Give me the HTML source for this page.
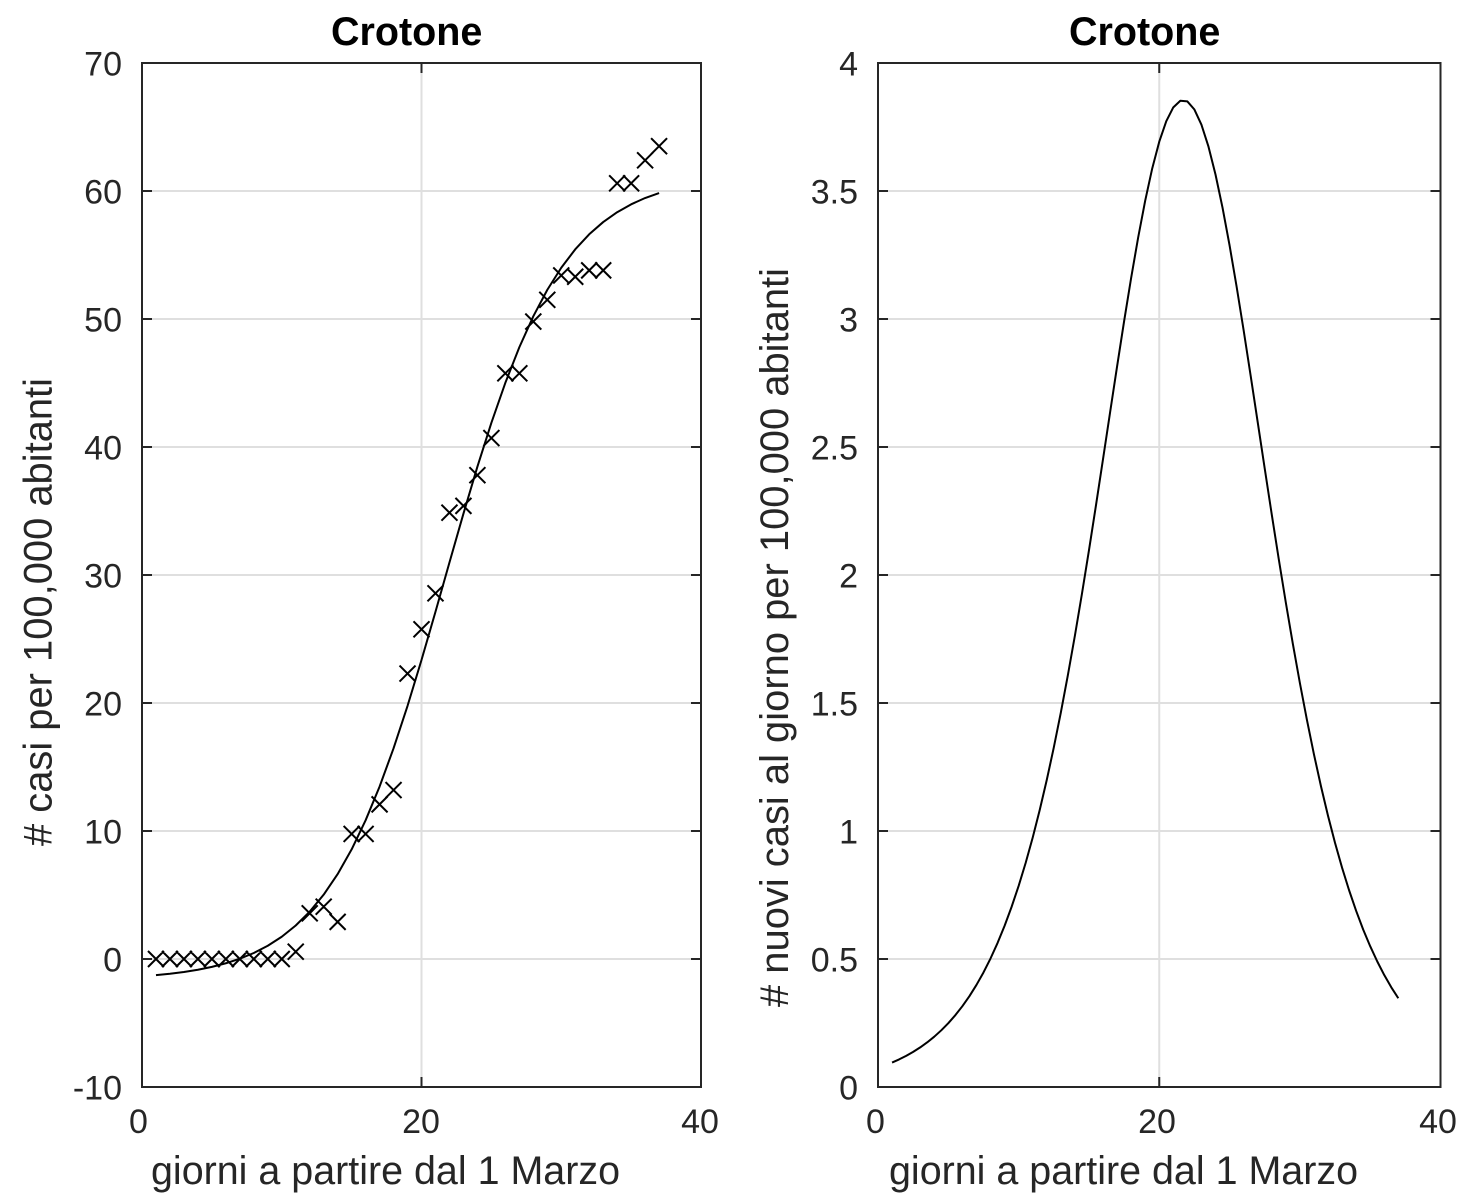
<!DOCTYPE html>
<html>
<head>
<meta charset="utf-8">
<style>
  html, body { margin: 0; padding: 0; background: #ffffff; }
  svg { display: block; }
  text { font-family: "Liberation Sans", Arial, Helvetica, sans-serif; }
</style>
</head>
<body>
<svg xmlns="http://www.w3.org/2000/svg" width="1476" height="1202" viewBox="0 0 1476 1202">
  <rect x="0" y="0" width="1476" height="1202" fill="#ffffff"/>

  <!-- ================= LEFT PLOT ================= -->
  <g stroke="#dfdfdf" stroke-width="2" fill="none">
    <line x1="142" y1="959" x2="701" y2="959"/>
    <line x1="142" y1="831" x2="701" y2="831"/>
    <line x1="142" y1="703" x2="701" y2="703"/>
    <line x1="142" y1="575" x2="701" y2="575"/>
    <line x1="142" y1="447" x2="701" y2="447"/>
    <line x1="142" y1="319" x2="701" y2="319"/>
    <line x1="142" y1="191" x2="701" y2="191"/>
    <line x1="421.5" y1="63" x2="421.5" y2="1087"/>
  </g>

  <polyline fill="none" stroke="#000" stroke-width="2" stroke-linejoin="round" points="
155.98,975.10 169.95,973.72 183.93,971.95 197.90,969.72 211.88,966.88 225.85,963.28 239.83,958.72 253.80,952.99 267.78,945.76 281.75,936.75 295.73,925.52 309.70,911.65 323.68,894.67 337.65,874.07 351.63,849.40 365.60,820.31 379.58,786.59 393.55,748.32 407.53,705.88 421.50,660.00 435.48,611.76 449.45,562.51 463.43,513.71 477.40,466.71 491.38,422.80 505.35,382.80 519.33,347.23 533.30,316.30 547.28,289.90 561.25,267.73 575.23,249.36 589.20,234.29 603.18,222.06 617.15,212.21 631.13,204.32 645.10,198.02 659.08,193.03"/>

  <path fill="none" stroke="#000" stroke-width="2" d="
M147.98,951l16,16m-16,0l16,-16
M161.95,951l16,16m-16,0l16,-16
M175.93,951l16,16m-16,0l16,-16
M189.9,951l16,16m-16,0l16,-16
M203.88,951l16,16m-16,0l16,-16
M217.85,951l16,16m-16,0l16,-16
M231.83,951l16,16m-16,0l16,-16
M245.8,951l16,16m-16,0l16,-16
M259.78,951l16,16m-16,0l16,-16
M273.75,951l16,16m-16,0l16,-16
M287.73,943.7l16,16m-16,0l16,-16
M301.7,905.3l16,16m-16,0l16,-16
M315.68,898.65l16,16m-16,0l16,-16
M329.65,913.88l16,16m-16,0l16,-16
M343.63,825.94l16,16m-16,0l16,-16
M357.6,825.94l16,16m-16,0l16,-16
M371.58,796.38l16,16m-16,0l16,-16
M385.55,782.04l16,16m-16,0l16,-16
M399.53,665.56l16,16m-16,0l16,-16
M413.5,621.27l16,16m-16,0l16,-16
M427.48,585.3l16,16m-16,0l16,-16
M441.45,504.66l16,16m-16,0l16,-16
M455.43,497.88l16,16m-16,0l16,-16
M469.4,467.16l16,16m-16,0l16,-16
M483.38,430.04l16,16m-16,0l16,-16
M497.35,365.27l16,16m-16,0l16,-16
M511.33,365.27l16,16m-16,0l16,-16
M525.3,313.56l16,16m-16,0l16,-16
M539.28,291.8l16,16m-16,0l16,-16
M553.25,267.48l16,16m-16,0l16,-16
M567.23,268.76l16,16m-16,0l16,-16
M581.2,262.36l16,16m-16,0l16,-16
M595.18,262.36l16,16m-16,0l16,-16
M609.15,175.32l16,16m-16,0l16,-16
M623.13,175.32l16,16m-16,0l16,-16
M637.1,152.28l16,16m-16,0l16,-16
M651.08,138.2l16,16m-16,0l16,-16"/>

  <g stroke="#262626" stroke-width="2" fill="none">
    <rect x="142" y="63" width="559" height="1024"/>
    <path d="M142,191h10M142,319h10M142,447h10M142,575h10M142,703h10M142,831h10M142,959h10
             M701,191h-10M701,319h-10M701,447h-10M701,575h-10M701,703h-10M701,831h-10M701,959h-10
             M421.5,1087v-10M421.5,63v10"/>
  </g>

  <g font-size="34" fill="#262626" text-anchor="end">
    <text x="122" y="75.5">70</text>
    <text x="122" y="203.5">60</text>
    <text x="122" y="331.5">50</text>
    <text x="122" y="459.5">40</text>
    <text x="122" y="587.5">30</text>
    <text x="122" y="715.5">20</text>
    <text x="122" y="843.5">10</text>
    <text x="122" y="971.5">0</text>
    <text x="122" y="1099.5">-10</text>
  </g>
  <g font-size="34" fill="#262626" text-anchor="middle">
    <text x="138.5" y="1133">0</text>
    <text x="421" y="1133">20</text>
    <text x="700" y="1133">40</text>
  </g>

  <text x="331" y="45" font-size="39.5" font-weight="bold" fill="#000">Crotone</text>
  <text x="151" y="1184" font-size="39.6" fill="#262626" textLength="469" lengthAdjust="spacingAndGlyphs">giorni a partire dal 1 Marzo</text>
  <text transform="translate(51.5,846) rotate(-90)" font-size="39.6" fill="#262626" textLength="468" lengthAdjust="spacingAndGlyphs"># casi per 100,000 abitanti</text>

  <!-- ================= RIGHT PLOT ================= -->
  <g stroke="#dfdfdf" stroke-width="2" fill="none">
    <line x1="878" y1="959" x2="1440.5" y2="959"/>
    <line x1="878" y1="831" x2="1440.5" y2="831"/>
    <line x1="878" y1="703" x2="1440.5" y2="703"/>
    <line x1="878" y1="575" x2="1440.5" y2="575"/>
    <line x1="878" y1="447" x2="1440.5" y2="447"/>
    <line x1="878" y1="319" x2="1440.5" y2="319"/>
    <line x1="878" y1="191" x2="1440.5" y2="191"/>
    <line x1="1159.25" y1="63" x2="1159.25" y2="1087"/>
  </g>

  <polyline fill="none" stroke="#000" stroke-width="2" stroke-linejoin="round" points="
892.06,1062.55 899.09,1059.40 906.13,1055.87 913.16,1051.88 920.19,1047.39 927.22,1042.35 934.25,1036.69 941.28,1030.32 948.31,1023.17 955.34,1015.16 962.38,1006.19 969.41,996.16 976.44,984.94 983.47,972.45 990.50,958.52 997.53,943.03 1004.56,925.84 1011.59,906.88 1018.63,885.93 1025.66,862.88 1032.69,837.61 1039.72,810.02 1046.75,780.03 1053.78,747.59 1060.81,712.70 1067.84,675.35 1074.88,635.76 1081.91,594.00 1088.94,550.42 1095.97,505.34 1103.00,459.27 1110.03,412.77 1117.06,366.54 1124.09,321.34 1131.13,278.00 1138.16,237.50 1145.19,200.67 1152.22,168.46 1159.25,141.73 1166.28,121.17 1173.31,107.35 1180.34,100.72 1187.38,101.43 1194.41,109.52 1201.44,124.72 1208.47,146.59 1215.50,174.50 1222.53,207.69 1229.56,245.35 1236.59,286.49 1243.63,330.23 1250.66,375.74 1257.69,422.08 1264.72,468.51 1271.75,514.45 1278.78,559.26 1285.81,602.48 1292.84,643.85 1299.88,683.01 1306.91,719.84 1313.94,754.27 1320.97,786.24 1328.00,815.73 1335.03,842.85 1342.06,867.68 1349.09,890.25 1356.13,910.82 1363.16,929.46 1370.19,946.23 1377.22,961.39 1384.25,975.05 1391.28,987.29 1398.31,998.26"/>

  <g stroke="#262626" stroke-width="2" fill="none">
    <rect x="878" y="63" width="562.5" height="1024"/>
    <path d="M878,191h10M878,319h10M878,447h10M878,575h10M878,703h10M878,831h10M878,959h10
             M1440.5,191h-10M1440.5,319h-10M1440.5,447h-10M1440.5,575h-10M1440.5,703h-10M1440.5,831h-10M1440.5,959h-10
             M1159.25,1087v-10M1159.25,63v10"/>
  </g>

  <g font-size="34" fill="#262626" text-anchor="end">
    <text x="858" y="75.5">4</text>
    <text x="858" y="203.5">3.5</text>
    <text x="858" y="331.5">3</text>
    <text x="858" y="459.5">2.5</text>
    <text x="858" y="587.5">2</text>
    <text x="858" y="715.5">1.5</text>
    <text x="858" y="843.5">1</text>
    <text x="858" y="971.5">0.5</text>
    <text x="858" y="1099.5">0</text>
  </g>
  <g font-size="34" fill="#262626" text-anchor="middle">
    <text x="875.5" y="1133">0</text>
    <text x="1157" y="1133">20</text>
    <text x="1438" y="1133">40</text>
  </g>

  <text x="1069" y="45" font-size="39.5" font-weight="bold" fill="#000">Crotone</text>
  <text x="889" y="1184" font-size="39.6" fill="#262626" textLength="469" lengthAdjust="spacingAndGlyphs">giorni a partire dal 1 Marzo</text>
  <text transform="translate(788,1007) rotate(-90)" font-size="39.6" fill="#262626" textLength="739" lengthAdjust="spacingAndGlyphs"># nuovi casi al giorno per 100,000 abitanti</text>
</svg>
</body>
</html>
